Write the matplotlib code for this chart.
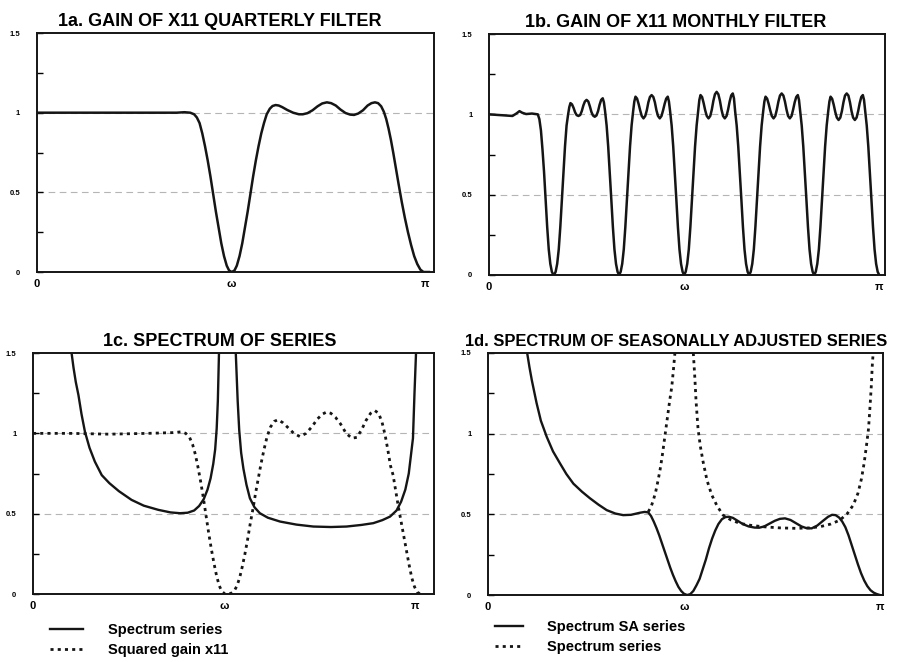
import numpy as np
import matplotlib
matplotlib.use('Agg')
import matplotlib.pyplot as plt

# x values are in units of pi (0 .. 1), y is gain / spectrum level
# 1a: gain of X11 quarterly filter
q_x = [0, 0.1, 0.2, 0.3, 0.36, 0.38, 0.395, 0.405, 0.412, 0.419, 0.426, 0.433, 0.44, 0.447,
       0.454, 0.461, 0.468, 0.475, 0.482, 0.489, 0.495, 0.502, 0.509, 0.515, 0.522, 0.529,
       0.536, 0.543, 0.55, 0.557, 0.564, 0.571, 0.578, 0.585, 0.592, 0.6, 0.607, 0.615,
       0.623, 0.632, 0.645, 0.66, 0.675, 0.685, 0.697, 0.71, 0.723, 0.735, 0.747, 0.758,
       0.77, 0.782, 0.795, 0.807, 0.817, 0.828, 0.84, 0.852, 0.862, 0.871, 0.879, 0.887,
       0.894, 0.9, 0.906, 0.912, 0.918, 0.925, 0.932, 0.94, 0.948, 0.956, 0.964, 0.972,
       0.98, 0.988, 0.996, 1.01]
q_y = [1.0, 1.0, 1.0, 1.0, 1.0, 1.003, 1.0, 0.99, 0.97, 0.935, 0.87, 0.79, 0.7, 0.6,
       0.49, 0.38, 0.28, 0.18, 0.1, 0.04, 0.01, 0.0, 0.01, 0.04, 0.1, 0.18,
       0.28, 0.38, 0.49, 0.6, 0.7, 0.79, 0.87, 0.935, 0.99, 1.025, 1.042, 1.048,
       1.045, 1.035, 1.017, 1.0, 0.99, 0.99, 0.997, 1.015, 1.04, 1.058, 1.065, 1.06,
       1.045, 1.02, 0.998, 0.988, 0.986, 0.995, 1.015, 1.045, 1.06, 1.065, 1.06, 1.04,
       1.005, 0.96, 0.9, 0.83, 0.75, 0.65, 0.55, 0.44, 0.34, 0.25, 0.17, 0.1,
       0.05, 0.015, 0.0, 0.0]

# 1b: gain of X11 monthly filter (flat start, then five seasonal lobes)
m_x0 = [0, 0.03, 0.06, 0.07, 0.078, 0.085, 0.095, 0.11, 0.125, 0.129, 0.133, 0.137, 0.141,
        0.145, 0.149, 0.153, 0.157, 0.161, 0.164]
m_y0 = [1.0, 0.995, 0.99, 1.005, 1.02, 1.01, 1.002, 1.005, 1.0, 0.97, 0.9, 0.78, 0.64,
        0.47, 0.3, 0.16, 0.07, 0.02, 0.005]
lobe_start = [1 / 6, 2 / 6, 3 / 6, 4 / 6, 5 / 6]
lobe_dx = [0, 0.004, 0.008, 0.012, 0.016, 0.020, 0.024, 0.028, 0.032, 0.036, 0.039, 0.042,
           0.046, 0.050, 0.054, 0.058, 0.0625, 0.067, 0.071, 0.075, 0.079, 0.0833,
           0.0877, 0.0917, 0.0957, 0.0997, 0.1042, 0.1087, 0.1127, 0.1167, 0.1207, 0.1247,
           0.1277, 0.1307, 0.1347, 0.1387, 0.1427, 0.1467, 0.1507, 0.1547, 0.1587, 0.1627,
           0.1667]
lobe1 = [0, 0.02, 0.07, 0.16, 0.3, 0.47, 0.64, 0.8, 0.93, 1.0, 1.045, 1.07, 1.062, 1.04,
         1.012, 0.995, 0.99, 0.996, 1.02, 1.055, 1.08, 1.09,
         1.08, 1.05, 1.015, 0.993, 0.985, 0.993, 1.02, 1.06, 1.09, 1.10, 1.075, 1.02, 0.93,
         0.8, 0.64, 0.47, 0.3, 0.16, 0.07, 0.02, 0]
lobe2 = [0, 0.02, 0.07, 0.16, 0.3, 0.47, 0.64, 0.8, 0.93, 1.02, 1.08, 1.11, 1.098, 1.065,
         1.025, 0.99, 0.975, 0.99, 1.025, 1.075, 1.108, 1.12,
         1.108, 1.075, 1.025, 0.99, 0.975, 0.99, 1.025, 1.065, 1.098, 1.11, 1.08, 1.02, 0.93,
         0.8, 0.64, 0.47, 0.3, 0.16, 0.07, 0.02, 0]
lobe3 = [0, 0.02, 0.07, 0.16, 0.3, 0.47, 0.64, 0.8, 0.93, 1.02, 1.09, 1.12, 1.108, 1.07,
         1.025, 0.99, 0.975, 0.99, 1.03, 1.085, 1.125, 1.14,
         1.125, 1.085, 1.03, 0.99, 0.975, 0.99, 1.03, 1.08, 1.118, 1.13, 1.10, 1.02, 0.93,
         0.8, 0.64, 0.47, 0.3, 0.16, 0.07, 0.02, 0]
lobe4 = [0, 0.02, 0.07, 0.16, 0.3, 0.47, 0.64, 0.8, 0.93, 1.02, 1.08, 1.11, 1.098, 1.065,
         1.025, 0.99, 0.975, 0.99, 1.03, 1.08, 1.117, 1.13,
         1.117, 1.08, 1.03, 0.99, 0.975, 0.99, 1.03, 1.075, 1.108, 1.12, 1.09, 1.02, 0.93,
         0.8, 0.64, 0.47, 0.3, 0.16, 0.07, 0.02, 0]
lobe5 = [0, 0.02, 0.07, 0.16, 0.3, 0.47, 0.64, 0.8, 0.93, 1.02, 1.08, 1.11, 1.097, 1.06,
         1.015, 0.98, 0.965, 0.98, 1.02, 1.075, 1.117, 1.13,
         1.117, 1.075, 1.02, 0.98, 0.965, 0.98, 1.02, 1.07, 1.108, 1.12, 1.09, 1.02, 0.93,
         0.8, 0.64, 0.47, 0.3, 0.16, 0.07, 0.02, 0]

# 1c: spectrum of series (two branches) and squared X11 gain
s_lx = [0.101, 0.106, 0.112, 0.119, 0.127, 0.136, 0.148, 0.162, 0.18, 0.2, 0.225, 0.258,
        0.29, 0.328, 0.36, 0.385, 0.405, 0.422, 0.435, 0.447, 0.457, 0.465, 0.472, 0.477,
        0.481, 0.484, 0.487]
s_ly = [1.5, 1.41, 1.32, 1.238, 1.12, 1.01, 0.91, 0.824, 0.74, 0.69, 0.64, 0.586,
        0.55, 0.524, 0.508, 0.503, 0.506, 0.52, 0.548, 0.59, 0.65, 0.72, 0.81, 0.9,
        1.03, 1.2, 1.5]
s_rx = [0.531, 0.533, 0.536, 0.54, 0.545, 0.551, 0.559, 0.568, 0.58, 0.594, 0.615, 0.647,
        0.69, 0.734, 0.78, 0.821, 0.86, 0.891, 0.915, 0.935, 0.952, 0.964, 0.975, 0.984,
        0.99, 0.995, 0.999, 1.003]
s_ry = [1.5, 1.38, 1.2, 1.02, 0.88, 0.78, 0.68, 0.596, 0.54, 0.503, 0.475, 0.451,
        0.432, 0.42, 0.417, 0.42, 0.43, 0.441, 0.46, 0.482, 0.52, 0.575, 0.65, 0.75,
        0.87, 0.97, 1.25, 1.5]
g_x = [0, 0.1, 0.2, 0.3, 0.37, 0.389, 0.4, 0.41, 0.418, 0.425, 0.432, 0.439, 0.446, 0.453,
       0.46, 0.467, 0.474, 0.481, 0.488, 0.495, 0.503, 0.511, 0.519, 0.527, 0.534, 0.541,
       0.548, 0.555, 0.562, 0.569, 0.576, 0.583, 0.59, 0.597, 0.605, 0.613, 0.622, 0.632,
       0.642, 0.655, 0.668, 0.683, 0.699, 0.715, 0.73, 0.745, 0.758, 0.769, 0.78, 0.792,
       0.805, 0.82, 0.835, 0.848, 0.86, 0.872, 0.884, 0.895, 0.905, 0.914, 0.922, 0.929,
       0.936, 0.943, 0.95, 0.957, 0.964, 0.971, 0.978, 0.985, 0.992, 0.999, 1.006, 1.014]
g_y = [1.0, 1.0, 0.995, 1.0, 1.005, 1.01, 1.0, 0.975, 0.93, 0.87, 0.79, 0.7, 0.6, 0.49,
       0.38, 0.28, 0.19, 0.11, 0.05, 0.015, 0.0, 0.0, 0.005, 0.02, 0.05, 0.1,
       0.17, 0.25, 0.34, 0.44, 0.53, 0.63, 0.72, 0.81, 0.9, 0.98, 1.04, 1.075,
       1.085, 1.065, 1.035, 1.0, 0.98, 1.0, 1.04, 1.09, 1.12, 1.133, 1.125, 1.1,
       1.06, 1.0, 0.97, 0.975, 1.02, 1.08, 1.125, 1.142, 1.125, 1.07, 0.99, 0.9,
       0.8, 0.74, 0.64, 0.54, 0.45, 0.36, 0.27, 0.18, 0.1, 0.045, 0.012, 0.0]

# 1d: spectrum of seasonally adjusted series and spectrum of series
sa_x = [0.1, 0.106, 0.112, 0.118, 0.124, 0.135, 0.15, 0.166, 0.184, 0.2, 0.218, 0.24,
        0.26, 0.282, 0.303, 0.325, 0.345, 0.365, 0.388, 0.4, 0.409, 0.416, 0.423, 0.43,
        0.437, 0.444, 0.451, 0.458, 0.465, 0.472, 0.479, 0.486, 0.493, 0.5, 0.508, 0.516,
        0.524, 0.532, 0.54, 0.548, 0.556, 0.564, 0.572, 0.58, 0.588, 0.597, 0.606, 0.615,
        0.625, 0.637, 0.65, 0.665, 0.68, 0.692, 0.705, 0.718, 0.732, 0.745, 0.758, 0.772,
        0.786, 0.8, 0.813, 0.826, 0.84, 0.855, 0.868, 0.878, 0.887, 0.896, 0.904, 0.912,
        0.92, 0.928, 0.936, 0.944, 0.952, 0.96, 0.968, 0.976, 0.984, 0.992, 1.0]
sa_y = [1.5, 1.41, 1.33, 1.26, 1.19, 1.08, 0.98, 0.89, 0.815, 0.75, 0.69, 0.64,
        0.6, 0.56, 0.526, 0.505, 0.495, 0.497, 0.51, 0.515, 0.512, 0.49, 0.455, 0.415,
        0.37, 0.32, 0.27, 0.22, 0.17, 0.125, 0.085, 0.05, 0.025, 0.008, 0.0, 0.005,
        0.025, 0.06, 0.1, 0.16, 0.22, 0.29, 0.35, 0.4, 0.44, 0.47, 0.483, 0.485,
        0.478, 0.46, 0.44, 0.425, 0.418, 0.417, 0.425, 0.442, 0.46, 0.472, 0.475, 0.465,
        0.445, 0.425, 0.414, 0.413, 0.43, 0.46, 0.485, 0.497, 0.495, 0.48, 0.455, 0.42,
        0.37, 0.31, 0.25, 0.19, 0.135, 0.09, 0.055, 0.03, 0.015, 0.006, 0.0]
sp_lx = [0.409, 0.416, 0.422, 0.428, 0.434, 0.439, 0.444, 0.449, 0.454, 0.459, 0.464, 0.469,
         0.473, 0.477]
sp_ly = [0.516, 0.545, 0.588, 0.64, 0.71, 0.774, 0.85, 0.94, 1.03, 1.12, 1.21, 1.29,
         1.39, 1.5]
sp_rx = [0.524, 0.526, 0.528, 0.531, 0.536, 0.542, 0.549, 0.559, 0.571, 0.585, 0.6, 0.62,
         0.643, 0.67, 0.702, 0.745, 0.787, 0.82, 0.847, 0.875, 0.898, 0.917, 0.932, 0.944,
         0.953, 0.96, 0.966, 0.971, 0.974, 0.978, 0.981, 0.983]
sp_ry = [1.5, 1.42, 1.34, 1.2, 1.03, 0.92, 0.825, 0.71, 0.62, 0.55, 0.495, 0.465,
         0.444, 0.432, 0.423, 0.416, 0.413, 0.416, 0.423, 0.44, 0.464, 0.505, 0.557, 0.63,
         0.72, 0.82, 0.93, 1.03, 1.135, 1.29, 1.44, 1.5]

plt.rcParams['font.family'] = ['Liberation Sans', 'DejaVu Sans']
ink = '#151515'
dots = (0, (1.1, 1.5))

fig = plt.figure(figsize=(8.97, 6.62), dpi=100)
ax_a = fig.add_axes([0.0412, 0.5891, 0.4426, 0.3610])
ax_b = fig.add_axes([0.5452, 0.5846, 0.4415, 0.3640])
ax_c = fig.add_axes([0.0368, 0.1027, 0.4470, 0.3640])
ax_d = fig.add_axes([0.5440, 0.1012, 0.4404, 0.3656])


def setup(ax, xmax, title, tx, tsize):
    ax.set_xlim(0, xmax)
    ax.set_ylim(0, 1.5)
    ax.set_yticks([0, 0.5, 1, 1.5])
    ax.set_yticklabels(['0', '0.5', '1', '1.5'])
    ax.set_yticks([0.25, 0.75, 1.25], minor=True)
    ax.tick_params(axis='y', which='both', direction='in', length=4, width=1, pad=12,
                   labelsize=5.5)
    ax.set_xticks([0, 0.5, 1])
    ax.set_xticklabels(['0', 'ω', 'π'])
    ax.tick_params(axis='x', length=0, pad=5, labelsize=8)
    for lbl in ax.get_xticklabels() + ax.get_yticklabels():
        lbl.set_fontweight('bold')
    for s in ax.spines.values():
        s.set_linewidth(1.4)
        s.set_color(ink)
    for lev in (0.5, 1.0):
        ax.axhline(lev, color='#b5b5b5', lw=0.8, dashes=(6, 4), zorder=0)
    ax.set_title(title, x=tx, fontsize=tsize, fontweight='bold', pad=5)


setup(ax_a, 1.023, '1a. GAIN OF X11 QUARTERLY FILTER', 0.461, 13)
setup(ax_b, 1.015, '1b. GAIN OF X11 MONTHLY FILTER', 0.472, 13)
setup(ax_c, 1.05, '1c. SPECTRUM OF SERIES', 0.466, 13)
setup(ax_d, 1.008, '1d. SPECTRUM OF SEASONALLY ADJUSTED SERIES', 0.476, 11.9)

ax_a.plot(q_x, q_y, color=ink, lw=1.8)

m_x = list(m_x0)
m_y = list(m_y0)
for start, ys in zip(lobe_start, [lobe1, lobe2, lobe3, lobe4, lobe5]):
    m_x += [start + d for d in lobe_dx]
    m_y += ys
ax_b.plot(m_x, m_y, color=ink, lw=1.8)

l1, = ax_c.plot(s_lx, s_ly, color=ink, lw=1.7, label='Spectrum series')
ax_c.plot(s_rx, s_ry, color=ink, lw=1.7)
l2, = ax_c.plot(g_x, g_y, color=ink, lw=2, linestyle=dots, label='Squared gain x11')
ax_c.legend(handles=[l1, l2], loc='upper left', bbox_to_anchor=(0.042, -0.12), frameon=False,
            fontsize=10.5, handlelength=2.26, handletextpad=1.7, labelspacing=0.45,
            borderpad=0, borderaxespad=0)

k1, = ax_d.plot(sa_x, sa_y, color=ink, lw=1.7, label='Spectrum SA series')
k2, = ax_d.plot(sp_lx, sp_ly, color=ink, lw=2, linestyle=dots, label='Spectrum series')
ax_d.plot(sp_rx, sp_ry, color=ink, lw=2, linestyle=dots)
ax_d.legend(handles=[k1, k2], loc='upper left', bbox_to_anchor=(0.018, -0.103), frameon=False,
            fontsize=10.5, handlelength=1.92, handletextpad=1.64, labelspacing=0.45,
            borderpad=0, borderaxespad=0)

for t in ax_c.get_legend().get_texts() + ax_d.get_legend().get_texts():
    t.set_fontweight('bold')

fig.savefig('out.png', dpi=100)
